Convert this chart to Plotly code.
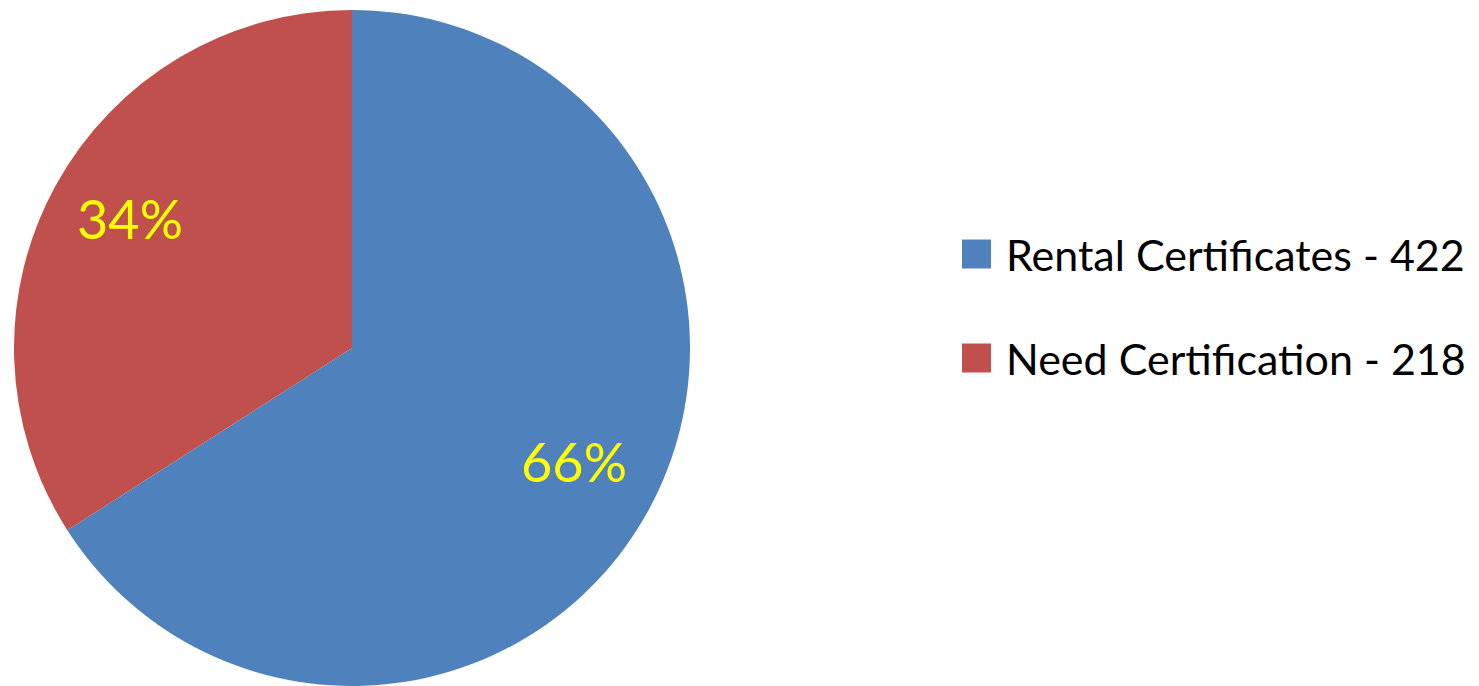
import math
import plotly.graph_objects as go

labels = ["Rental Certificates - 422", "Need Certification - 218"]
values = [422, 218]
colors = ["#4F81BD", "#C0504D"]

W, H = 1479, 686
CX, CY, R = 352, 348, 338  # pie centre / radius in pixels (layout)

fig = go.Figure()
fig.add_trace(go.Pie(
    labels=labels,
    values=values,
    sort=False,
    direction="clockwise",
    rotation=0,
    marker=dict(colors=colors, line=dict(width=0)),
    textinfo="none",
    domain=dict(x=[(CX - R) / W, (CX + R) / W], y=[0, 1 - (CY - R) / H]),
    showlegend=False,
    hoverinfo="label+percent",
))

# percentage labels placed along each slice's mid-angle (outer part, like Excel)
total = sum(values)
start = 0.0
for v in values:
    frac = v / total
    mid = (start + frac / 2) * 2 * math.pi
    start += frac
    px = CX + math.sin(mid) * R * 0.75
    py = CY - math.cos(mid) * R * 0.75
    fig.add_annotation(xref="paper", yref="paper",
                       x=px / W, y=1 - py / H,
                       xanchor="center", yanchor="middle", yshift=8,
                       text=f"{round(frac * 100)}%", showarrow=False,
                       font=dict(family="Lato", size=54, color="#FFFF00"))

# custom legend (large squares like the original)
legend_rows_y = [254, 358]
for lab, col, yc in zip(labels, colors, legend_rows_y):
    fig.add_shape(type="rect", xref="paper", yref="paper",
                  x0=962 / W, x1=991 / W,
                  y0=1 - (yc + 14.5) / H, y1=1 - (yc - 14.5) / H,
                  fillcolor=col, line=dict(width=0))
    fig.add_annotation(xref="paper", yref="paper",
                       x=1004 / W, y=1 - yc / H,
                       xanchor="left", yanchor="middle",
                       text=lab, showarrow=False,
                       font=dict(family="Lato", size=43, color="black"))

fig.update_layout(
    width=W, height=H,
    margin=dict(l=0, r=0, t=0, b=0),
    paper_bgcolor="white",
    plot_bgcolor="white",
)

fig.write_html("out.html")
